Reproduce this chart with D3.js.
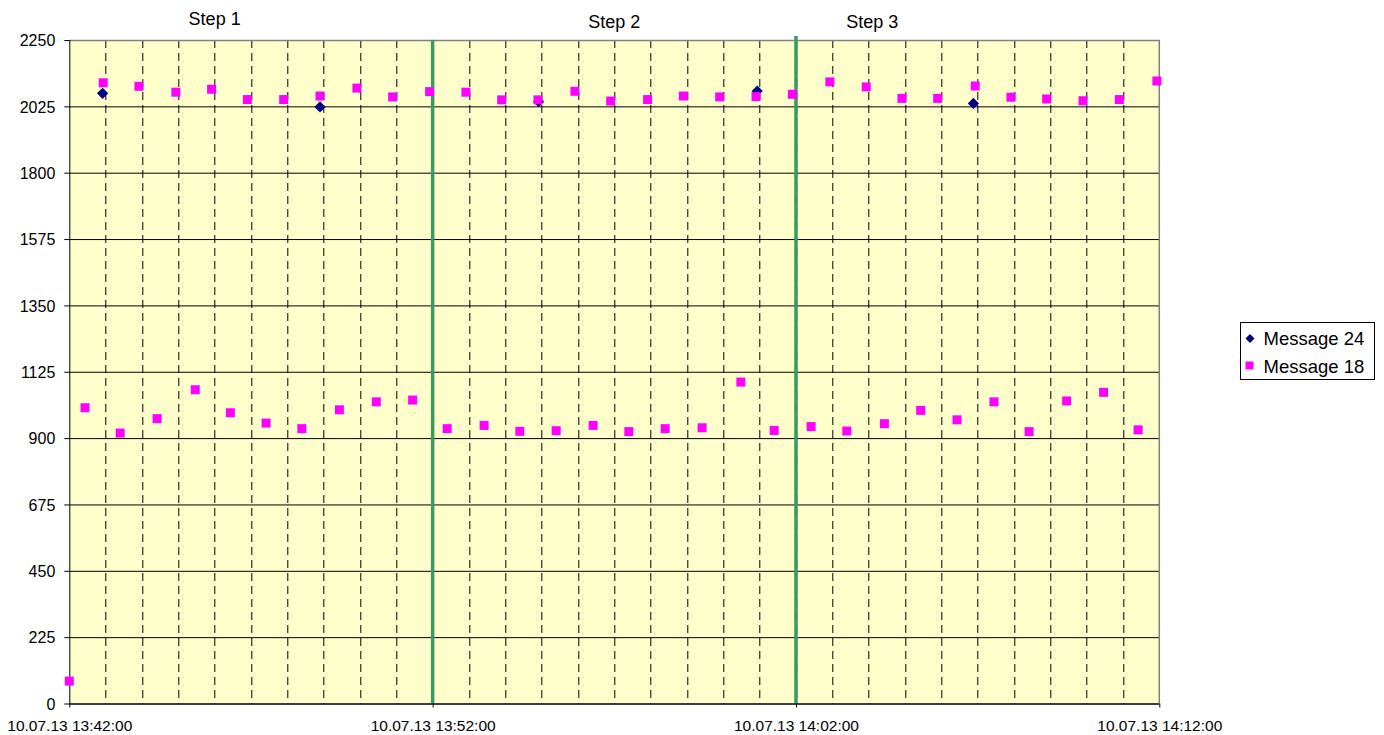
<!DOCTYPE html>
<html>
<head>
<meta charset="utf-8">
<script src="https://cdn.jsdelivr.net/npm/d3@7"></script>
<style>
  html, body { margin: 0; padding: 0; background: #fff; }
  svg { display: block; font-family: "Liberation Sans", Arial, sans-serif; }
</style>
</head>
<body>
<svg id="chart" width="1384" height="735"></svg>
<script>
// Sample times (10.07.13) and values for each message series
const msg18Times = [
  "13:42:00","13:42:26","13:42:56","13:43:24","13:43:55","13:44:25","13:44:56","13:45:28",
  "13:45:55","13:46:26","13:46:54","13:47:25","13:47:54","13:48:24","13:48:54","13:49:26",
  "13:49:55","13:50:27","13:50:54","13:51:27","13:51:55","13:52:24","13:52:55","13:53:25",
  "13:53:54","13:54:24","13:54:54","13:55:24","13:55:55","13:56:25","13:56:54","13:57:24",
  "13:57:55","13:58:24","13:58:54","13:59:25","13:59:54","14:00:29","14:00:54","14:01:24",
  "14:01:54","14:02:25","14:02:56","14:03:24","14:03:56","14:04:26","14:04:55","14:05:26",
  "14:05:54","14:06:26","14:06:56","14:07:27","14:07:55","14:08:25","14:08:54","14:09:27",
  "14:09:54","14:10:28","14:10:54","14:11:25","14:11:56"
];
const msg18Values = [
  76, 1003, 2105, 917, 2093, 966, 2073, 1064,
  2083, 986, 2048, 951, 2048, 932, 2060, 996,
  2087, 1023, 2057, 1029, 2075, 932, 2073, 943,
  2047, 923, 2047, 925, 2076, 943, 2043, 922,
  2048, 932, 2060, 935, 2057, 1090, 2058, 926,
  2066, 939, 2108, 924, 2091, 949, 2052, 994,
  2052, 962, 2094, 1023, 2056, 922, 2050, 1026,
  2044, 1055, 2048, 928, 2111
];
const msg24Times = ["13:42:55", "13:48:54", "13:54:55", "14:00:56", "14:06:53"];
const msg24Values = [2069, 2023, 2041, 2077, 2035];

const seriesNames = ["Message 24", "Message 18"];
const yTicks = [0, 225, 450, 675, 900, 1125, 1350, 1575, 1800, 2025, 2250];
const xTickTimes = ["13:42:00", "13:52:00", "14:02:00", "14:12:00"];
const xDomain = ["13:42:00", "14:12:00"];
const stepMarkers = ["13:52:00", "14:02:00"];
const stepLabels = ["Step 1", "Step 2", "Step 3"];
const stepLabelTimes = ["13:46:00", "13:57:00", "14:04:06"];

const parse = d3.timeParse("%d.%m.%y %H:%M:%S");
const t = s => parse("10.07.13 " + s);

const svg = d3.select("#chart");
const margin = { left: 69.3, top: 40, right: 1384 - 1159.3, bottom: 735 - 703.5 };
const W = 1384 - margin.left - margin.right;
const H = 735 - margin.top - margin.bottom;

const x = d3.scaleTime().domain(xDomain.map(t)).range([0, W]);
const y = d3.scaleLinear().domain([0, 2250]).range([H, 0]);

const g = svg.append("g").attr("transform", `translate(${margin.left},${margin.top})`);

// plot background
g.append("rect").attr("width", W).attr("height", H).attr("fill", "#FFFFCC");

// horizontal gridlines
g.append("g")
  .call(d3.axisLeft(y).tickValues(yTicks).tickSize(-W).tickFormat(""))
  .call(s => s.select(".domain").remove())
  .call(s => s.selectAll("line").attr("stroke", "#000").attr("stroke-width", 1));

// dashed minute gridlines
const minuteTicks = d3.timeMinute.range(t("13:43:00"), t("14:12:00"));
g.append("g")
  .selectAll("line")
  .data(minuteTicks)
  .join("line")
  .attr("x1", d => Math.round(x(d)) + 0.5).attr("x2", d => Math.round(x(d)) + 0.5)
  .attr("y1", 0).attr("y2", H)
  .attr("stroke", "#000").attr("stroke-width", 1)
  .attr("stroke-dasharray", "8,5");

// plot frame (top / right)
g.append("path")
  .attr("d", `M0,0.5H${W}V${H}`)
  .attr("fill", "none").attr("stroke", "#808080").attr("stroke-width", 1.5);

// step separators
g.append("g")
  .selectAll("line")
  .data(stepMarkers)
  .join("line")
  .attr("x1", d => x(t(d))).attr("x2", d => x(t(d)))
  .attr("y1", (d, i) => i === 1 ? -4 : 0).attr("y2", H)
  .attr("stroke", "#3A9A62").attr("stroke-width", 3.5);

// y axis
const yAxis = g.append("g")
  .call(d3.axisLeft(y).tickValues(yTicks).tickSize(5).tickPadding(9).tickFormat(d3.format("d")));
yAxis.select(".domain").attr("stroke", "#000").attr("d", `M0.5,0V${H}`);
yAxis.selectAll("line").attr("stroke", "#000");
yAxis.selectAll("text").attr("font-size", 16).attr("fill", "#000")
  .attr("font-family", "'Liberation Sans', Arial, sans-serif").attr("dy", "0.36em");

// x axis
const fmt = d3.timeFormat("%d.%m.%y %H:%M:%S");
const xAxis = g.append("g")
  .attr("transform", `translate(0,${H})`)
  .call(d3.axisBottom(x).tickValues(xTickTimes.map(t)).tickSize(4).tickFormat(fmt));
xAxis.select(".domain").attr("stroke", "#000").attr("d", `M0,0.5H${W}`);
xAxis.selectAll("line").attr("stroke", "#000");
xAxis.selectAll("text").attr("font-size", 15.5).attr("fill", "#000")
  .attr("font-family", "'Liberation Sans', Arial, sans-serif")
  .attr("y", 0).attr("dy", 27.5);

// Message 24 (diamonds)
const diamond = d3.symbol().type(d3.symbolDiamond2).size(80);
g.append("g")
  .selectAll("path")
  .data(msg24Times.map((d, i) => ({ time: t(d), value: msg24Values[i] })))
  .join("path")
  .attr("d", diamond)
  .attr("transform", d => `translate(${x(d.time)},${y(d.value)})`)
  .attr("fill", "#000080");

// Message 18 (squares)
const sq = 9;
g.append("g")
  .selectAll("rect")
  .data(msg18Times.map((d, i) => ({ time: t(d), value: msg18Values[i] })))
  .join("rect")
  .attr("x", d => x(d.time) - sq / 2).attr("y", d => y(d.value) - sq / 2)
  .attr("width", sq).attr("height", sq)
  .attr("fill", "#FF00FF");

// step labels
svg.append("g")
  .selectAll("text")
  .data(stepLabels)
  .join("text")
  .attr("x", (d, i) => margin.left + x(t(stepLabelTimes[i])))
  .attr("y", (d, i) => i === 0 ? 25 : 28)
  .attr("text-anchor", "middle")
  .attr("font-size", 18)
  .attr("fill", "#000")
  .text(d => d);

// legend
const lg = svg.append("g").attr("transform", "translate(1240.5,322.5)");
lg.append("rect").attr("width", 134).attr("height", 57)
  .attr("fill", "#fff").attr("stroke", "#000").attr("stroke-width", 1);
lg.append("path").attr("d", d3.symbol().type(d3.symbolDiamond2).size(52))
  .attr("transform", "translate(9.5,16)").attr("fill", "#000080");
lg.append("rect").attr("x", 5).attr("y", 39).attr("width", 8).attr("height", 8).attr("fill", "#FF00FF");
lg.selectAll("text.item")
  .data(seriesNames)
  .join("text")
  .attr("class", "item")
  .attr("x", 23)
  .attr("y", (d, i) => 22 + i * 28.5)
  .attr("font-size", 18.5)
  .attr("fill", "#000")
  .text(d => d);
</script>
</body>
</html>
